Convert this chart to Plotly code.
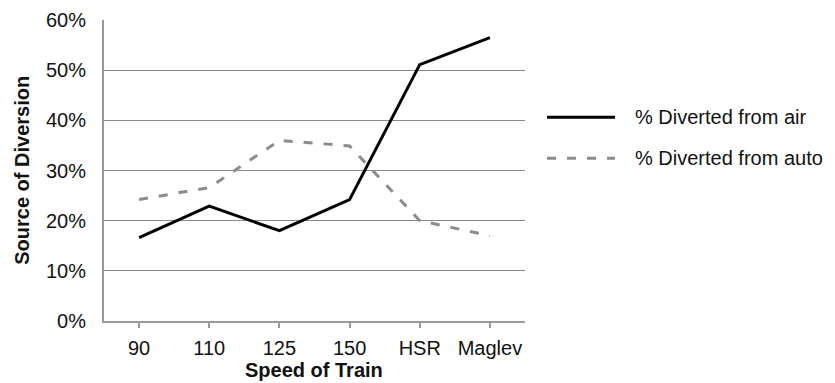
import plotly.graph_objects as go

# Train speed categories and share of riders diverted from each mode
speeds = ["90", "110", "125", "150", "HSR", "Maglev"]
diverted_air = [0.166, 0.229, 0.180, 0.242, 0.511, 0.565]
diverted_auto = [0.242, 0.266, 0.360, 0.349, 0.200, 0.170]
y_ticks = [0, 0.1, 0.2, 0.3, 0.4, 0.5, 0.6]
series_names = ["% Diverted from air", "% Diverted from auto"]
x_title = "Speed of Train"
y_title = "Source of Diversion"

FONT = "Liberation Sans, Arial, Helvetica, sans-serif"
GRID = "#8a8a8a"
AXIS = "#9a9a9a"
L, R, T, B = 104, 525, 19.5, 321  # plot box in pixels
W, H = 835, 383


def px_x(x):
    return (x - L) / (R - L)


def px_y(y):
    return 1 - (y - T) / (B - T)


fig = go.Figure()
fig.add_trace(go.Scatter(
    x=speeds, y=diverted_air, mode="lines", name=series_names[0],
    line=dict(color="#000000", width=3), showlegend=False,
))
fig.add_trace(go.Scatter(
    x=speeds, y=diverted_auto, mode="lines", name=series_names[1],
    line=dict(color="#8c8c8c", width=3, dash="9px,11px"), showlegend=False,
))

# Legend drawn beside the plot with long line samples
legend_rows = [(series_names[0], "#000000", "solid", 117),
               (series_names[1], "#8c8c8c", "9px,11px", 158)]
for label, color, dash, ypx in legend_rows:
    fig.add_shape(type="line", xref="paper", yref="paper",
                  x0=px_x(547), x1=px_x(615), y0=px_y(ypx), y1=px_y(ypx),
                  line=dict(color=color, width=3, dash=dash))
    fig.add_annotation(text=label, xref="paper", yref="paper",
                       x=px_x(633), y=px_y(ypx), xanchor="left", yanchor="middle",
                       showarrow=False, font=dict(family=FONT, size=20, color="#111111"))

# Axis titles
fig.add_annotation(text="<b>%s</b>" % x_title, xref="paper", yref="paper",
                   x=px_x(314), y=px_y(370), xanchor="center", yanchor="middle",
                   showarrow=False, font=dict(family=FONT, size=20, color="#111111"))
fig.add_annotation(text="<b>%s</b>" % y_title, xref="paper", yref="paper",
                   x=px_x(22.5), y=px_y(170), xanchor="center", yanchor="middle",
                   textangle=-90, showarrow=False,
                   font=dict(family=FONT, size=20, color="#111111"))

fig.update_layout(
    width=W, height=H,
    margin=dict(l=L, r=W - R, t=T, b=H - B),
    paper_bgcolor="white", plot_bgcolor="white",
    font=dict(family=FONT, size=20, color="#111111"),
    showlegend=False,
)
fig.update_xaxes(
    type="category", range=[-0.5, 5.5], automargin=False,
    showline=True, linecolor=AXIS, linewidth=2,
    ticks="outside", ticklen=5, tickcolor=AXIS, tickwidth=1.5,
    showgrid=False, ticklabelstandoff=3,
)
fig.update_yaxes(
    range=[0, 0.6], tickvals=y_ticks, tickformat=".0%", automargin=False,
    showline=True, linecolor=AXIS, linewidth=2,
    showgrid=True, gridcolor=GRID, gridwidth=1,
    ticks="", ticklabelstandoff=12, zeroline=False,
)

fig.write_html("out.html")
